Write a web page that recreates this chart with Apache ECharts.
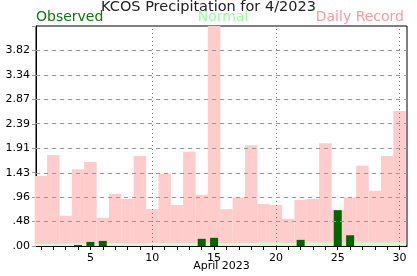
<!DOCTYPE html>
<html><head><meta charset="utf-8">
<script src="https://cdn.jsdelivr.net/npm/echarts@6/dist/echarts.min.js"></script>
<style>html,body{margin:0;padding:0;background:#fff}#c{width:417px;height:276px}</style>
</head><body><div id="c"></div>
<script>
const days = [1,2,3,4,5,6,7,8,9,10,11,12,13,14,15,16,17,18,19,20,21,22,23,24,25,26,27,28,29,30];
const recordValues = [1.37,1.78,0.59,1.50,1.64,0.55,1.02,0.92,1.76,0.72,1.41,0.80,1.84,1.00,4.40,0.72,0.95,1.97,0.82,0.80,0.53,0.90,0.92,2.01,0.70,0.95,1.57,1.08,1.76,2.64];
const normalValues = [0.04,0.04,0.05,0.05,0.05,0.05,0.06,0.05,0.05,0.06,0.06,0.06,0.06,0.06,0.06,0.06,0.06,0.06,0.07,0.07,0.06,0.07,0.07,0.07,0.07,0.07,0.07,0.07,0.07,0.07];
const observedValues = [0,0,0,0.02,0.08,0.10,0,0,0,0,0,0,0,0.14,0.16,0,0,0,0,0,0,0.12,0,0,0.70,0.21,0,0,0,0];
const xLabelDays = [5,10,15,20,25,30];
const xGridDays = [10,20,30];
const yMax = 4.30;
const yInterval = yMax / 9;
const yGridValues = [1,2,3,4,5,6,7,8].map(i => i * yInterval);

const FONT = 'DejaVu Sans';
const pair = arr => days.map((d, i) => [d, arr[i]]);
const xBase = { type: 'value', min: 0.6, max: 30.6 };
const chart = echarts.init(document.getElementById('c'), null, { renderer: 'canvas' });
chart.setOption({
  animation: false,
  textStyle: { fontFamily: FONT },
  grid: { left: 36, right: 10, top: 26, bottom: 30, show: true, borderColor: '#000', borderWidth: 1,
    backgroundColor: 'transparent', containLabel: false, outerBoundsMode: 'none' },
  graphic: [
    { type: 'text', left: 'center', top: 0, style: { text: 'KCOS Precipitation for 4/2023', font: '14.5px "DejaVu Sans"', fill: '#222' } },
    { type: 'text', left: 36, top: 10, style: { text: 'Observed', font: '14px "DejaVu Sans"', fill: '#0a7a0a' } },
    { type: 'text', x: 223, top: 10, style: { text: 'Normal', font: '14px "DejaVu Sans"', fill: '#99ff99', textAlign: 'center' } },
    { type: 'text', right: 13, top: 10, style: { text: 'Daily Record', font: '14px "DejaVu Sans"', fill: '#ff9999' } }
  ],
  xAxis: [
    Object.assign({}, xBase, {
      name: 'April 2023', nameLocation: 'middle', nameGap: 15, nameMoveOverlap: false,
      nameTextStyle: { fontSize: 11, color: '#000', fontFamily: FONT, verticalAlign: 'top' },
      axisLine: { show: true, lineStyle: { color: '#000' } },
      axisTick: { show: true, length: 4, lineStyle: { color: '#000' }, customValues: days },
      axisLabel: { customValues: xLabelDays, fontSize: 11, color: '#000', margin: 7, fontFamily: FONT },
      splitLine: { show: false }
    }),
    Object.assign({}, xBase, { show: false, splitLine: { show: false } }),
    Object.assign({}, xBase, { show: false, splitLine: { show: false } })
  ],
  yAxis: {
    type: 'value', min: 0, max: yMax, interval: yInterval,
    axisLine: { show: true, lineStyle: { color: '#000' } },
    axisTick: { show: true, length: 4, lineStyle: { color: '#999' } },
    axisLabel: { fontSize: 11, color: '#000', margin: 6, fontFamily: FONT,
      formatter: v => v > yMax - 0.01 ? '' : v.toFixed(2).replace(/^0/, '') },
    splitLine: { show: false }
  },
  series: [
    { type: 'bar', name: 'Daily Record', xAxisIndex: 0, data: pair(recordValues), barWidth: 12.5,
      itemStyle: { color: '#ffcccc' }, clip: true, z: 1 },
    { type: 'bar', name: 'Normal', xAxisIndex: 1, data: pair(normalValues), barWidth: 12.5,
      itemStyle: { color: '#ccffcc' }, clip: true, z: 2 },
    { type: 'bar', name: 'Observed', xAxisIndex: 2, data: pair(observedValues), barWidth: 8,
      itemStyle: { color: '#006600' }, clip: true, z: 3,
      markLine: { silent: true, symbol: 'none', label: { show: false }, animation: false,
        data: xGridDays.map(d => ({ xAxis: d, lineStyle: { type: [1, 3], color: '#777', width: 1 } }))
          .concat(yGridValues.map(v => ({ yAxis: v, lineStyle: { type: [4, 4], color: '#999', width: 1 } }))) } }
  ]
});
</script></body></html>
